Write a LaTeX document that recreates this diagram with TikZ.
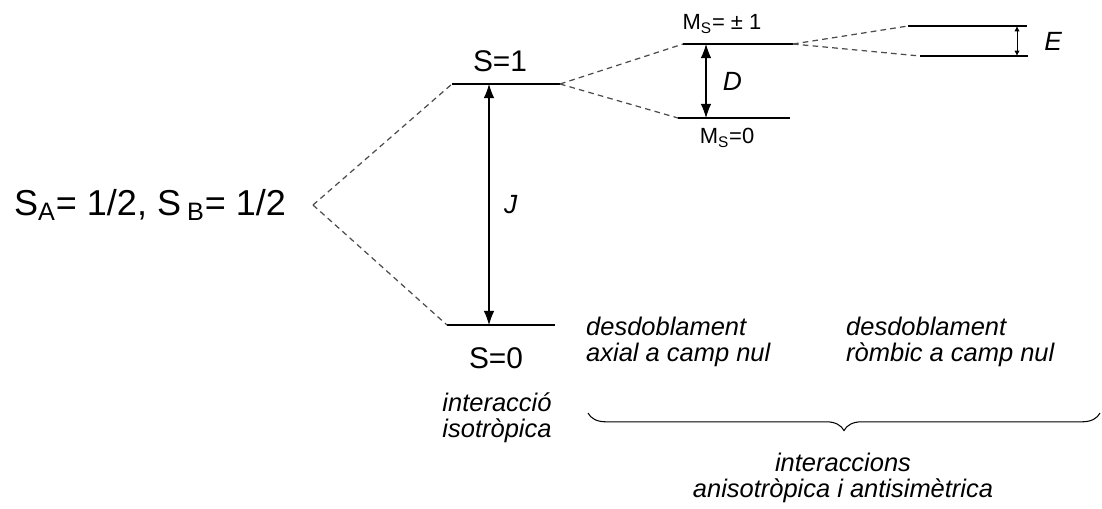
\documentclass[tikz,border=0pt]{standalone}
\usepackage{fontspec}
\setmainfont{Liberation Sans}
\usetikzlibrary{arrows.meta,decorations.pathreplacing}
\begin{document}
\begin{tikzpicture}[x=0.02cm, y=-0.02cm,
    level/.style={line width=0.8pt},
    split/.style={line width=0.7pt, dash pattern=on 3.2pt off 2.4pt, black!70},
    gap/.style={line width=0.6pt, {Latex[length=8pt,width=6pt]}-{Latex[length=8pt,width=6pt]}},
    smallgap/.style={line width=0.5pt, {Latex[length=3pt,width=3pt]}-{Latex[length=3pt,width=3pt]}},
    big/.style={font=\fontsize{20.5}{24}\selectfont},
    lab/.style={font=\fontsize{17}{20}\selectfont},
    sym/.style={font=\fontsize{15}{18}\selectfont\itshape},
    sub/.style={font=\fontsize{12.5}{15}\selectfont},
    note/.style={font=\fontsize{14.5}{14.8}\selectfont\itshape}]
    \useasboundingbox (0,0) rectangle (1102,508);

    % Espins aillats
    \node[big, anchor=west] (SAB) at (8,205) {S\textsubscript{A}= 1/2, S\,\textsubscript{B}= 1/2};
    \coordinate (O) at (313,205);

    % Nivells
    \coordinate (S1a) at (452,84);  \coordinate (S1b) at (560,84);
    \coordinate (S0a) at (447,325); \coordinate (S0b) at (555,325);
    \coordinate (Pa) at (683,44);   \coordinate (Pb) at (793,44);
    \coordinate (Za) at (678,118);  \coordinate (Zb) at (790,118);
    \coordinate (Ua) at (908,26);   \coordinate (Ub) at (1027,26);
    \coordinate (Ba) at (920,56);   \coordinate (Bb) at (1028,56);
    \foreach \a/\b in {S1a/S1b, S0a/S0b, Pa/Pb, Za/Zb, Ua/Ub, Ba/Bb}
        \draw[level] (\a) -- (\b);

    % Desdoblaments
    \draw[split] (O) -- (S1a);
    \draw[split] (O) -- (S0a);
    \draw[split] (S1b) -- (Pa);
    \draw[split] (S1b) -- (Za);
    \draw[split] (Pb) -- (Ua);
    \draw[split] (Pb) -- (Ba);

    % Separacions
    \coordinate (Jt) at (489,84);   \coordinate (Jb) at (489,325);
    \coordinate (Dt) at (706,44);   \coordinate (Db) at (706,118);
    \coordinate (Et) at (1017,26);  \coordinate (Eb) at (1017,56);
    \draw[gap] (Jt) -- (Jb) node[midway, right=5pt, sym] {J};
    \draw[gap] (Dt) -- (Db) node[midway, right=6pt, sym] {D};
    \draw[smallgap] (Et) -- (Eb) node[midway, right=12pt, sym] {E};

    % Etiquetes
    \node[lab] (S1) at (500,61) {S=1};
    \node[lab] (S0) at (496,358) {S=0};
    \node[sub] (MP) at (722,24) {M\textsubscript{S}= ± 1};
    \node[sub] (MZ) at (727,138) {M\textsubscript{S}=0};

    % Textos
    \node[note, align=center] (iso) at (497,418) {interacció\\isotròpica};
    \node[note, align=left, anchor=west] (axial) at (580,342) {desdoblament\\axial a camp nul};
    \node[note, align=left, anchor=west] (romb) at (840,342) {desdoblament\\ròmbic a camp nul};
    \draw[line width=0.6pt, decorate, decoration={brace, mirror, amplitude=10pt}] (588,413) -- (1100,413);
    \node[note, align=center] (aniso) at (843,478) {interaccions\\anisotròpica i antisimètrica};
\end{tikzpicture}
\end{document}
